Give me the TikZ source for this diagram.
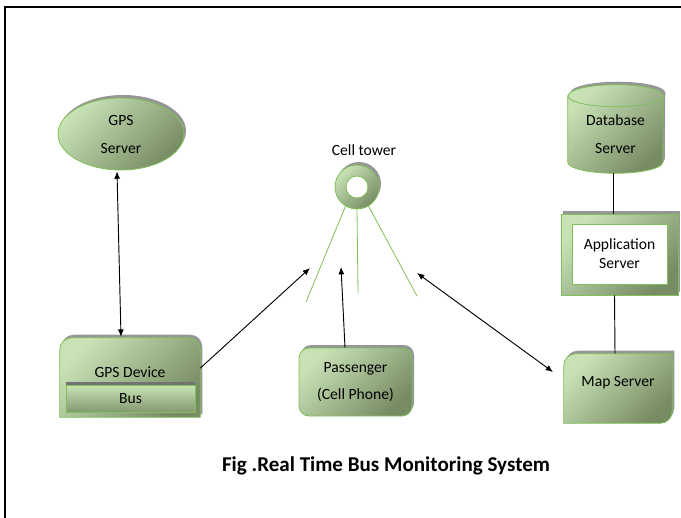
\documentclass[tikz,border=0pt]{standalone}
\usepackage{fontspec}
\setmainfont{Carlito}
\usetikzlibrary{shapes.geometric,shadows,backgrounds,calc,arrows.meta}

\definecolor{leafL}{RGB}{200,226,182}
\definecolor{leafD}{RGB}{120,140,100}
\definecolor{leafEdge}{RGB}{128,192,88}
\definecolor{ghostGrey}{RGB}{150,150,150}

\tikzset{
  leaf/.style={draw=leafEdge, line width=0.6pt, top color=leafL, bottom color=leafD, shading angle=45},
  ghost/.style={drop shadow={shadow xshift=1.5pt, shadow yshift=2.25pt, fill=ghostGrey, opacity=1}},
  txt/.style={font=\fontsize{11.7pt}{21pt}\selectfont, align=center, inner sep=0pt},
  >={Latex[length=5.5pt,width=4.5pt]}
}

\begin{document}
\begin{tikzpicture}[x=0.75pt,y=-0.75pt]
  \useasboundingbox (0,0) rectangle (681,517);
  \draw[line width=1.5pt] (4.5,7.5) rectangle (720,560);

  % servers and devices
  \node (gpss) [ellipse, minimum width=94.5pt, minimum height=54pt, leaf, ghost, txt] at (121,134) {GPS\\Server};
  \node (dev) [minimum width=105pt, minimum height=59.25pt, label={[txt, yshift=4.1pt]center:GPS Device}] at (130,377.5) {};
  \node (bus) [minimum width=96.75pt, minimum height=20.25pt, draw=leafEdge, line width=0.6pt, top color=leafL, bottom color=leafD!85!leafL,
     drop shadow={shadow xshift=0pt, shadow yshift=2.25pt, fill=black!55, opacity=1}, txt] at (130.5,398.5) {Bus};
  \node (pass) [rectangle, rounded corners=7.5pt, minimum width=84.75pt, minimum height=51pt, leaf, ghost, txt,
     font=\fontsize{11.7pt}{20.25pt}\selectfont] at (355.5,382) {Passenger\\(Cell Phone)};
  \node (tower) [circle, minimum size=33pt] at (357,187) {};
  \node (towerlbl) [txt] at (364,150) {Cell tower};
  \node (db) [minimum width=71.25pt, minimum height=66pt, label={[txt, yshift=-3.75pt]center:Database\\Server}] at (615.5,129) {};
  \node (app) [minimum width=87.75pt, minimum height=60.75pt, leaf, ghost] at (619.5,254.5) {};
  \node (appin) [minimum width=71.25pt, minimum height=45pt, draw=leafEdge, line width=0.6pt, fill=white,
     drop shadow={shadow xshift=0.8pt, shadow yshift=-0.8pt, fill=ghostGrey, opacity=1}, txt,
     font=\fontsize{11.7pt}{14.25pt}\selectfont] at (619.5,254) {Application\\Server};
  \node (map) [minimum width=81pt, minimum height=51.75pt, label={[txt, yshift=4.1pt]center:Map Server}] at (618,388.5) {};

  \node (title) [font=\bfseries\fontsize{15.8pt}{18pt}\selectfont] at (386,466) {Fig .Real Time Bus Monitoring System};

  \begin{scope}[on background layer]
    \path[leaf, ghost] (dev.south west) -- ([yshift=-9pt]dev.north west) arc[start angle=180, end angle=90, radius=9pt]
      -- ([xshift=-9pt]dev.north east) arc[start angle=90, end angle=0, radius=9pt] -- (dev.south east) -- cycle;
    \path[leaf, ghost] (map.north east) -- ([yshift=9pt]map.south east) arc[start angle=0, end angle=-90, radius=9pt]
      -- (map.south west) -- ([yshift=-9pt]map.north west) arc[start angle=180, end angle=90, radius=9pt] -- cycle;
    \path[leaf, ghost] ([yshift=-8.25pt]db.north west) -- ([yshift=8.25pt]db.south west)
      arc[start angle=180, end angle=360, x radius=35.625pt, y radius=8.25pt]
      -- ([yshift=-8.25pt]db.north east) arc[start angle=0, end angle=180, x radius=35.625pt, y radius=8.25pt] -- cycle;
    \draw[leafEdge, line width=0.6pt] ([yshift=-8.25pt]db.north west) arc[start angle=180, end angle=360, x radius=35.625pt, y radius=8.25pt];
    % tower ring
    \path[leaf, ghost] (tower.center) circle[radius=16.5pt];
    \filldraw[fill=white, draw=leafEdge, line width=0.6pt] (tower.center) circle[radius=8.25pt];
  \end{scope}

  % tower signal lines
  \coordinate (rayL) at (306,302);
  \coordinate (rayM) at (358,293);
  \coordinate (rayR) at (417,296);
  \draw[leafEdge, line width=0.6pt] (tower.239) -- (rayL);
  \draw[leafEdge, line width=0.6pt] (tower.270) -- (rayM);
  \draw[leafEdge, line width=0.6pt] (tower.301) -- (rayR);

  % links
  \coordinate (hitL) at (310,268);
  \coordinate (hitM) at (341,267);
  \coordinate (hitR) at (417,273);
  \coordinate (hitMap) at (553,372);
  \draw[<->, line width=0.7pt] ($(gpss.south)+(-4,1)$) -- ($(dev.north)+(-9,-1)$);
  \draw[->, line width=0.7pt] ([yshift=7pt]dev.east) -- (hitL);
  \draw[->, line width=0.7pt] ($(pass.north)+(-10.5,0)$) -- (hitM);
  \draw[<->, line width=0.7pt] (hitR) -- (hitMap);
  \draw[line width=0.7pt] ($(db.south)+(-2,0)$) -- ($(app.north)+(-6,0)$);
  \draw[line width=0.7pt] ($(app.south)+(-5,0)$) -- ($(map.north)+(-3,0)$);
\end{tikzpicture}
\end{document}
